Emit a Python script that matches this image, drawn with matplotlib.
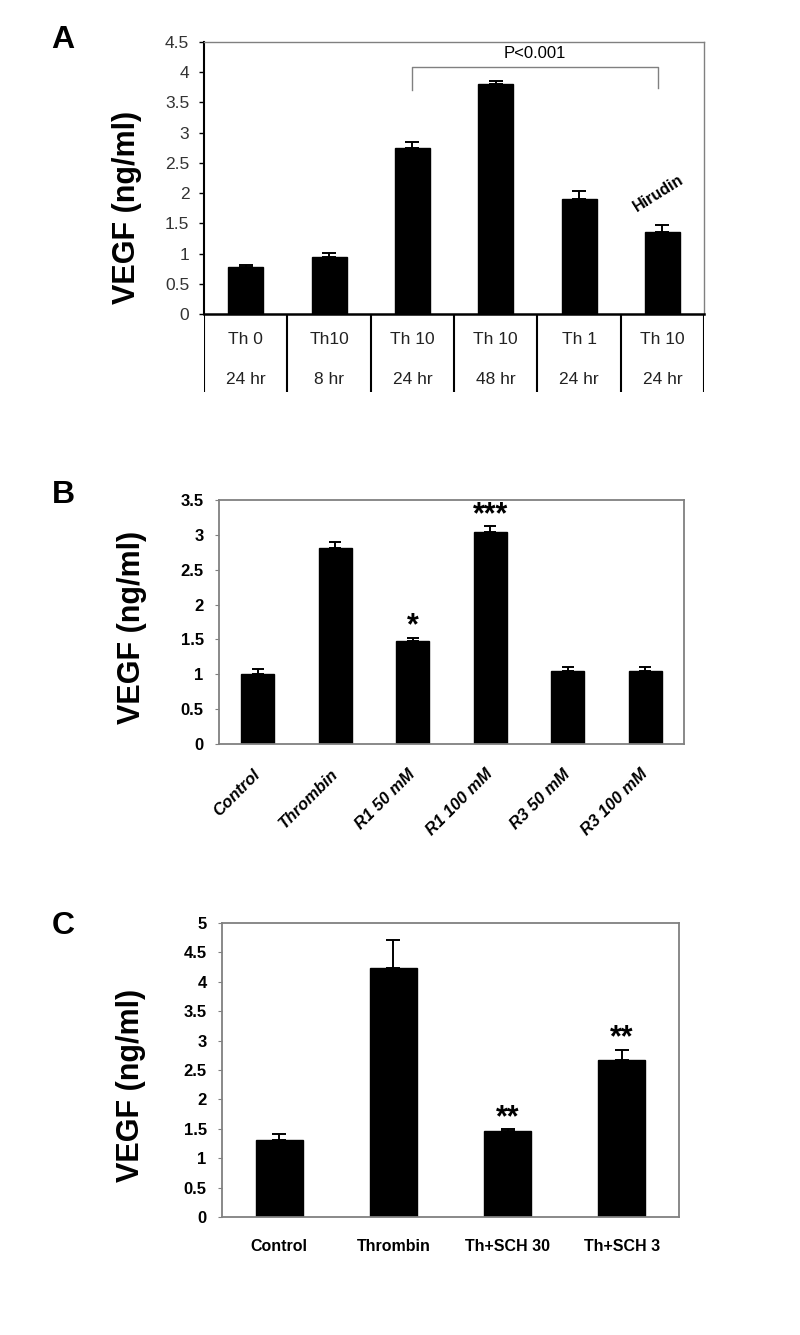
import numpy as np
import matplotlib.pyplot as plt
from matplotlib.ticker import FuncFormatter
from matplotlib.transforms import ScaledTranslation

plt.rcParams['font.family'] = ['Liberation Sans', 'DejaVu Sans']

# panel A data
a_top = ['Th 0', 'Th10', 'Th 10', 'Th 10', 'Th 1', 'Th 10']
a_bot = ['24 hr', '8 hr', '24 hr', '48 hr', '24 hr', '24 hr']
a_vals = [0.78, 0.95, 2.75, 3.80, 1.90, 1.36]
a_err = [0.03, 0.06, 0.10, 0.06, 0.14, 0.11]

# panel B data
b_labels = ['Control', 'Thrombin', 'R1 50 mM', 'R1 100 mM', 'R3 50 mM', 'R3 100 mM']
b_vals = [1.01, 2.81, 1.48, 3.04, 1.04, 1.04]
b_err = [0.06, 0.09, 0.045, 0.08, 0.06, 0.06]
b_stars = ['', '', '*', '***', '', '']

# panel C data
c_labels = ['Control', 'Thrombin', 'Th+SCH 30', 'Th+SCH 3']
c_vals = [1.31, 4.23, 1.47, 2.67]
c_err = [0.10, 0.48, 0.02, 0.17]
c_stars = ['', '', '**', '**']

gray = '#808080'
narrow = ['Liberation Sans Narrow', 'Liberation Sans', 'DejaVu Sans']
fmt = FuncFormatter(lambda v, p: '%g' % v)

fig = plt.figure(figsize=(8, 13.35), dpi=100)


def bars(ax, vals, err, width, cap):
    x = np.arange(len(vals))
    ax.bar(x, vals, width=width, color='black', edgecolor='black',
           yerr=[np.zeros(len(err)), err], capsize=cap,
           error_kw=dict(elinewidth=1.4, capthick=1.4, ecolor='black'))
    ax.set_xlim(-0.5, len(vals) - 0.5)
    return x


def ylab(xpx, ypx):
    fig.text(xpx / 800, 1 - ypx / 1335, 'VEGF (ng/ml)', fontsize=22, fontweight='bold',
             family=narrow, rotation=90, ha='center', va='center')


# ---- A ----
axA = fig.add_axes([0.255, 0.7648, 0.625, 0.2037])
x = bars(axA, a_vals, a_err, 0.42, 5)
axA.set_ylim(0, 4.5)
axA.set_yticks(np.arange(0, 4.51, 0.5))
axA.yaxis.set_major_formatter(fmt)
axA.set_xticks([])
axA.tick_params(axis='y', labelsize=12.5, labelcolor='#333333', length=3.6, width=1, pad=7)
for s in ['top', 'right']:
    axA.spines[s].set_color(gray)
    axA.spines[s].set_linewidth(1)
axA.spines['left'].set_linewidth(1.5)
axA.spines['bottom'].set_linewidth(1.8)

# bracket
axA.plot([2, 2, 4.95, 4.95], [3.71, 4.08, 4.08, 3.74], color=gray, lw=1)
axA.text(3.47, 4.18, 'P<0.001', ha='center', va='bottom', fontsize=12)
axA.text(4.95, 2.0, 'Hirudin', ha='center', va='center', rotation=32,
         fontsize=11.5, fontweight='bold')

# table under A
axT = fig.add_axes([0.255, 0.7064, 0.625, 0.0584])
axT.set_xlim(-0.5, 5.5)
axT.set_ylim(0, 1)
axT.axis('off')
for b in np.arange(-0.5, 6, 1):
    axT.plot([b, b], [0, 1], color='black', lw=1.5)
for i in range(len(a_top)):
    axT.text(i, 0.67, a_top[i], ha='center', va='center', fontsize=12.5, color='#222222')
    axT.text(i, 0.16, a_bot[i], ha='center', va='center', fontsize=12.5, color='#222222')

fig.text(0.079, 1 - 40 / 1335, 'A', fontsize=23, fontweight='bold', ha='center', va='center')
ylab(127, 207)

# ---- B ----
axB = fig.add_axes([0.27375, 0.4427, 0.58125, 0.1828])
x = bars(axB, b_vals, b_err, 0.43, 4.3)
axB.set_ylim(0, 3.5)
axB.set_yticks(np.arange(0, 3.51, 0.5))
axB.yaxis.set_major_formatter(fmt)
axB.set_xticks(x)
axB.set_xticklabels(b_labels, rotation=45, ha='right', va='center', rotation_mode='anchor',
                    fontsize=12, fontweight='bold', fontstyle='italic')
for lab in axB.get_xticklabels():
    lab.set_transform(lab.get_transform() + ScaledTranslation(-0.1, 0, fig.dpi_scale_trans))
axB.tick_params(axis='x', length=0, pad=20)
axB.tick_params(axis='y', labelsize=12, length=3, color=gray, pad=8)
for lab in axB.get_yticklabels():
    lab.set_fontweight('bold')
for s in axB.spines.values():
    s.set_color(gray)
    s.set_linewidth(1.3)
for i in range(len(b_vals)):
    if b_stars[i]:
        axB.text(i, b_vals[i] + b_err[i] + 0.05, b_stars[i], ha='center', va='baseline',
                 fontsize=22, fontweight='bold')

fig.text(0.079, 1 - 495 / 1335, 'B', fontsize=23, fontweight='bold', ha='center', va='center')
ylab(132, 627)

# ---- C ----
axC = fig.add_axes([0.2775, 0.0884, 0.57125, 0.2202])
x = bars(axC, c_vals, c_err, 0.41, 4.7)
axC.set_ylim(0, 5)
axC.set_yticks(np.arange(0, 5.01, 0.5))
axC.yaxis.set_major_formatter(fmt)
axC.set_xticks(x)
axC.set_xticklabels(c_labels, fontsize=11.5, fontweight='bold')
axC.tick_params(axis='x', length=0, pad=16)
axC.tick_params(axis='y', labelsize=12, length=3, color=gray, pad=8)
for lab in axC.get_yticklabels():
    lab.set_fontweight('bold')
for s in axC.spines.values():
    s.set_color(gray)
    s.set_linewidth(1.3)
for i in range(len(c_vals)):
    if c_stars[i]:
        axC.text(i, c_vals[i] + c_err[i] + 0.06, c_stars[i], ha='center', va='baseline',
                 fontsize=22, fontweight='bold')

fig.text(0.079, 1 - 926 / 1335, 'C', fontsize=23, fontweight='bold', ha='center', va='center')
ylab(131, 1085)

fig.savefig('out.png', dpi=100, facecolor='white')
